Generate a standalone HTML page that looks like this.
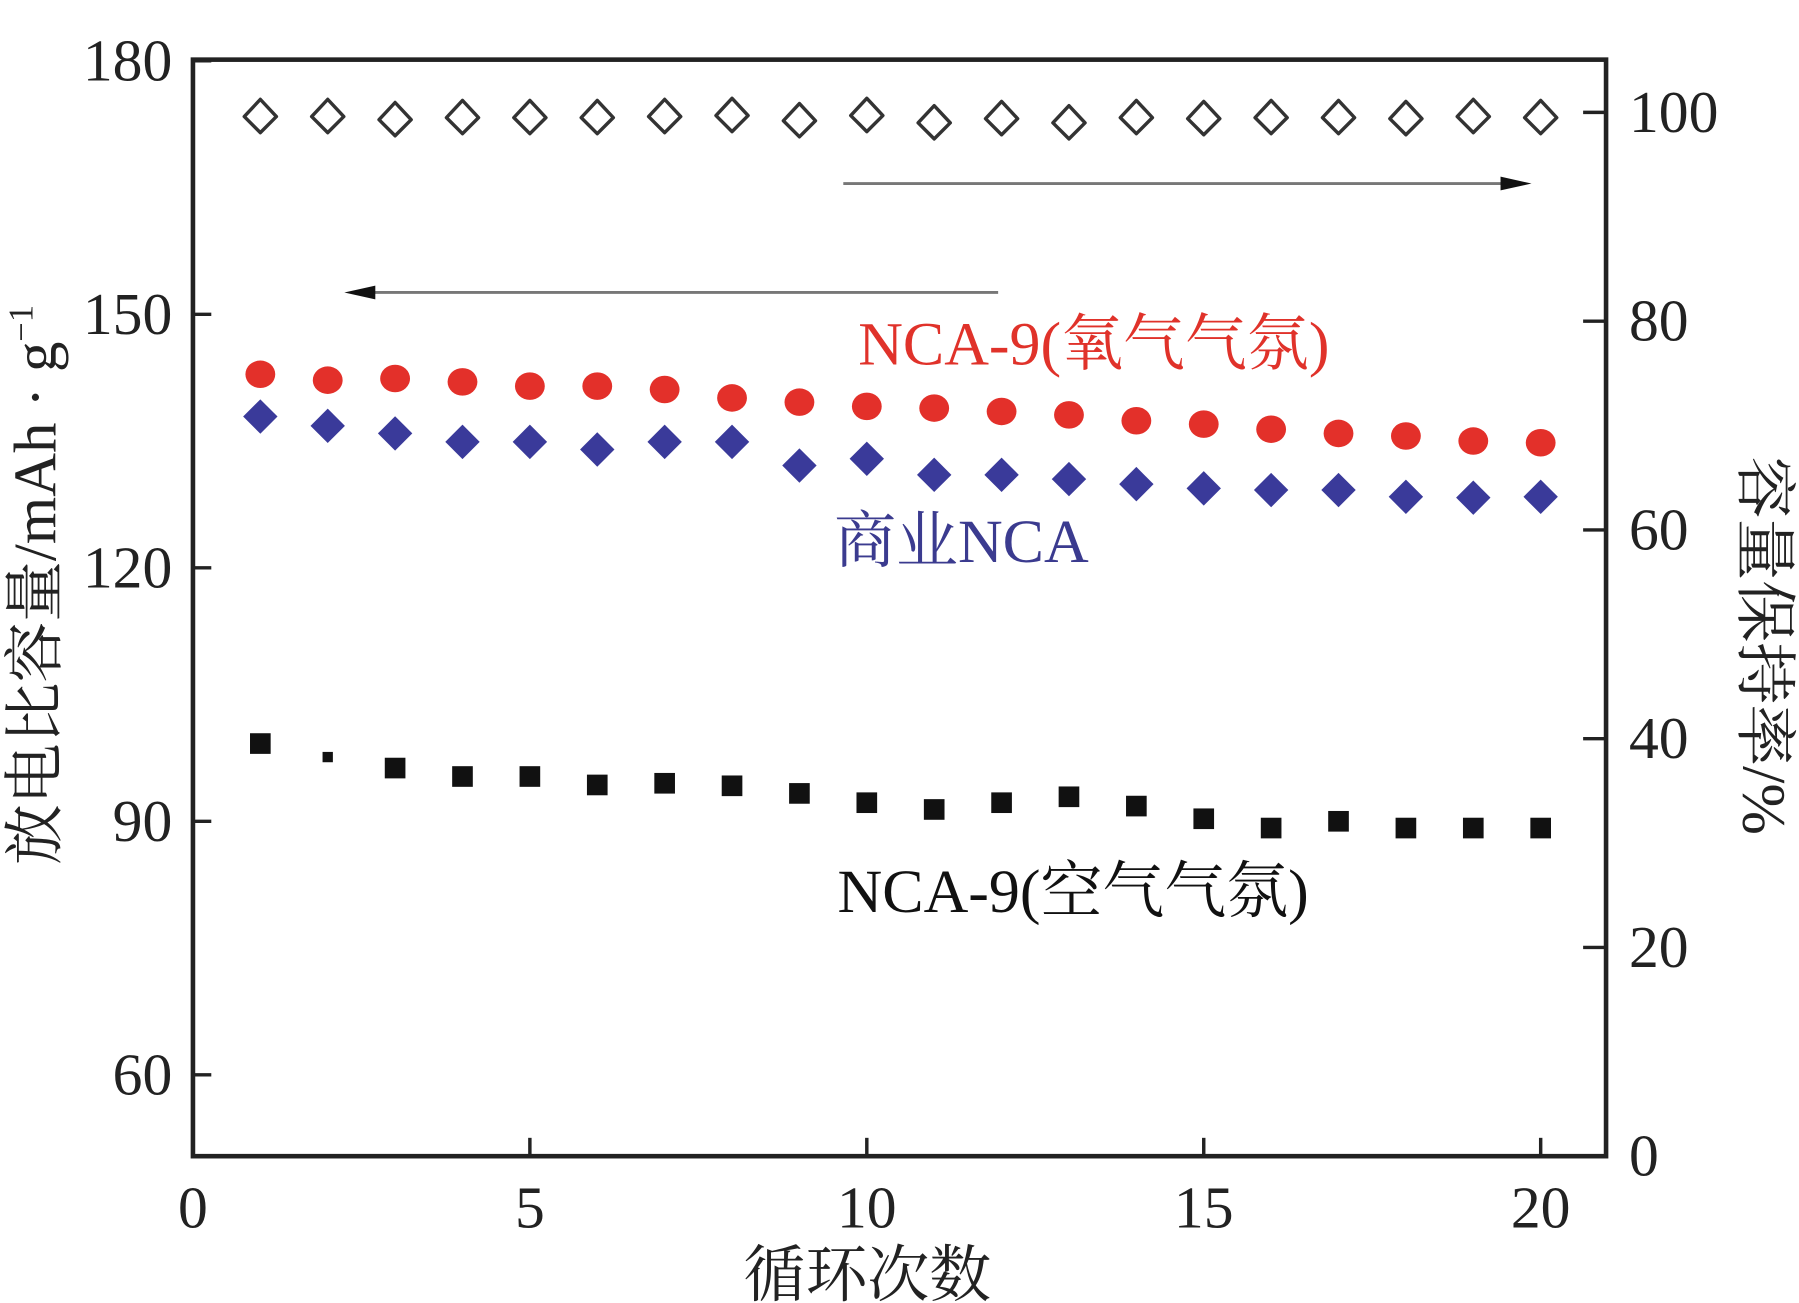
<!DOCTYPE html>
<html><head><meta charset="utf-8"><style>
html,body{margin:0;padding:0;background:#fff;}
svg{display:block;font-family:"Liberation Serif","Noto Serif CJK SC",serif;}
</style></head><body>
<svg id="chart" width="1799" height="1303" viewBox="0 0 1568 1136" xmlns="http://www.w3.org/2000/svg">
<g id="axes"></g>
<g id="marks"></g>
<text x="748" y="318" font-size="54" fill="#e0322a">NCA-9(氧气气氛)</text>
<text x="727" y="490" font-size="54" fill="#3b3b8f">商业NCA</text>
<text x="730" y="795" font-size="54" fill="#111">NCA-9(空气气氛)</text>
<g><line x1="735" y1="160" x2="1320" y2="160" stroke="#777" stroke-width="2.5"/><polygon points="1335,160 1308,154 1308,166" fill="#111"/></g>
<g><line x1="870" y1="255" x2="315" y2="255" stroke="#777" stroke-width="2.5"/><polygon points="300,255 327,249 327,261" fill="#111"/></g>
<text x="756" y="1130" font-size="54" text-anchor="middle" fill="#222">循环次数</text>
<text transform="translate(48,510) rotate(-90)" font-size="53" text-anchor="middle" fill="#222">放电比容量/mAh · g<tspan font-size="30" dy="-20">−1</tspan></text>
<text transform="translate(1520,563) rotate(90)" font-size="54" text-anchor="middle" fill="#222">容量保持率/%</text>
</svg>
<script>
const cycles=[1,2,3,4,5,6,7,8,9,10,11,12,13,14,15,16,17,18,19,20];
const oxygenCap=[142.9,142.2,142.4,142.0,141.5,141.5,141.1,140.1,139.6,139.1,138.9,138.5,138.1,137.4,137.0,136.4,135.9,135.6,135.0,134.8];
const commercialCap=[137.9,136.8,135.9,134.9,134.9,134.0,134.9,134.9,132.1,132.9,131.0,131.0,130.5,129.9,129.4,129.2,129.2,128.4,128.3,128.4];
const airCap=[99.2,97.6,96.3,95.3,95.3,94.3,94.5,94.2,93.3,92.2,91.4,92.2,92.9,91.8,90.3,89.2,90.0,89.2,89.2,89.2];
const retention=[99.6,99.6,99.3,99.5,99.5,99.5,99.6,99.7,99.2,99.7,99.0,99.4,99.0,99.5,99.4,99.5,99.5,99.4,99.6,99.5];
const xTicks=[0,5,10,15,20];
const yLeftTicks=[60,90,120,150,180];
const yRightTicks=[0,20,40,60,80,100];
const NS="http://www.w3.org/2000/svg";
const L=168,R=1400,T=52,B=1008;
const xS=v=>168+v*58.75;
const yL=v=>53+(180-v)*7.367;
const yR=v=>1008-v*9.1;
function mk(tag,attrs,parent){const e=document.createElementNS(NS,tag);for(const k in attrs)e.setAttribute(k,attrs[k]);parent.appendChild(e);return e;}
const ax=document.getElementById('axes'),mg=document.getElementById('marks');
let f=mk('rect',{x:L,y:T,width:R-L,height:B-T,fill:'none',stroke:'#222','stroke-width':4},ax);


xTicks.forEach(v=>{const x=xS(v);
 let t=mk('line',{x1:x,y1:B,x2:x,y2:B-16,stroke:'#222','stroke-width':3},ax);
 
 
 let s=mk('text',{x:x,y:B+62,'font-size':52,'text-anchor':'middle',fill:'#222'},ax);s.textContent=v;
 
 });
yLeftTicks.forEach(v=>{const y=yL(v);
 let t=mk('line',{x1:L,y1:y,x2:L+16,y2:y,stroke:'#222','stroke-width':3},ax);
 
 
 let s=mk('text',{x:L-18,y:y+17,'font-size':52,'text-anchor':'end',fill:'#222'},ax);s.textContent=v;
 
 });
yRightTicks.forEach(v=>{const y=yR(v);
 let t=mk('line',{x1:R,y1:y,x2:R-20,y2:y,stroke:'#222','stroke-width':3},ax);
 
 
 let s=mk('text',{x:R+20,y:y+17,'font-size':52,fill:'#222'},ax);s.textContent=v;
 
 });
cycles.forEach((c,i)=>{const x=xS(c);
 const yr=yR(retention[i]);
 let p=mk('path',{d:`M${x},${yr-15} L${x+14},${yr} L${x},${yr+14} L${x-14},${yr} Z`,fill:'none',stroke:'#333','stroke-width':3,'stroke-linejoin':'round'},mg);
 
 
 let o=mk('ellipse',{cx:x,cy:yL(oxygenCap[i]),rx:13,ry:12,fill:'#e3302a'},mg);
 
 
 const yb=yL(commercialCap[i]);
 let d=mk('polygon',{points:`${x},${yb-15} ${x+15},${yb} ${x},${yb+15} ${x-15},${yb}`,fill:'#3a3a9a'},mg);
 
 
 const ya=yL(airCap[i]);const s=i==1?9:18;
 let q=mk('rect',{x:x-s/2,y:ya-s/2,width:s,height:s,fill:'#111'},mg);
 
 
});
</script>
</body></html>
